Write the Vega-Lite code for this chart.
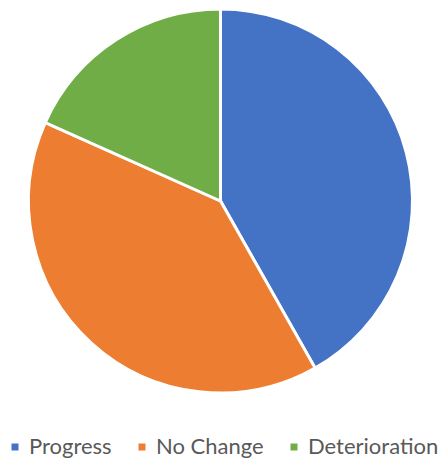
{
  "$schema": "https://vega.github.io/schema/vega-lite/v6.json",
  "width": 441,
  "height": 402,
  "padding": {"top": 0, "left": 0, "right": 2, "bottom": 57},
  "autosize": "none",
  "background": "white",
  "config": {"view": {"stroke": null}},
  "data": {"values": [
    {"category": "Progress", "value": 41.8, "ord": 1},
    {"category": "No Change", "value": 39.9, "ord": 2},
    {"category": "Deterioration", "value": 18.3, "ord": 3}
  ]},
  "mark": {"type": "arc", "outerRadius": 192, "stroke": "white", "strokeWidth": 3},
  "encoding": {
    "theta": {"field": "value", "type": "quantitative", "stack": true},
    "order": {"field": "ord", "type": "quantitative"},
    "color": {
      "field": "category", "type": "nominal",
      "scale": {"domain": ["Progress", "No Change", "Deterioration"], "range": ["#4472C4", "#ED7D31", "#70AD47"]},
      "legend": {
        "title": null, "orient": "none", "legendX": 4, "legendY": 436, "direction": "horizontal",
        "symbolType": "square", "symbolSize": 49, "symbolStrokeWidth": 0,
        "labelFontSize": 22, "labelFont": "Lato", "labelColor": "#595959",
        "columnPadding": 19, "labelOffset": 3
      }
    }
  }
}
